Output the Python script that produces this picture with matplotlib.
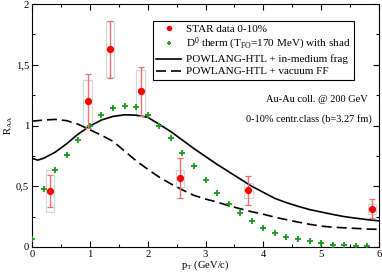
import matplotlib
matplotlib.use("Agg")
import matplotlib.pyplot as plt
from matplotlib.patches import Rectangle
from matplotlib.ticker import MultipleLocator, FixedLocator
import numpy as np

plt.rcParams['font.family'] = ['Liberation Serif', 'DejaVu Serif']
plt.rcParams['mathtext.fontset'] = 'custom'
plt.rcParams['mathtext.rm'] = 'Liberation Serif'
plt.rcParams['mathtext.it'] = 'Liberation Serif'

# STAR data
star_pt = [0.31, 0.96, 1.35, 1.88, 2.56, 3.74, 5.88]
star_raa = [0.46, 1.20, 1.63, 1.285, 0.565, 0.466, 0.314]
star_err_lo = [0.13, 0.22, 0.235, 0.21, 0.165, 0.117, 0.077]
star_err_hi = [0.13, 0.22, 0.23, 0.195, 0.165, 0.117, 0.077]
star_sys_lo = [0.17, 0.20, 0.23, 0.21, 0.07, 0.06, 0.04]
star_sys_hi = [0.17, 0.175, 0.23, 0.175, 0.07, 0.06, 0.04]

# D0 thermal with shadowing
therm_pt = [0.0, 0.2, 0.4, 0.6, 0.8, 1.0, 1.2, 1.4, 1.6, 1.8, 2.0, 2.2, 2.4, 2.6, 2.8,
            3.0, 3.2, 3.4, 3.6, 3.8, 4.0, 4.2, 4.4, 4.6, 4.8, 5.0, 5.2, 5.4, 5.6, 5.8]
therm_raa = [0.063, 0.48, 0.63, 0.755, 0.88, 0.994, 1.084, 1.144, 1.163, 1.15, 1.09, 1.0,
             0.90, 0.776, 0.667, 0.55, 0.447, 0.357, 0.278, 0.212, 0.155, 0.118, 0.085,
             0.063, 0.047, 0.033, 0.02, 0.014, 0.008, 0.006]

# POWLANG-HTL + in-medium frag
med_pt = [0.0, 0.1, 0.2, 0.4, 0.6, 0.8, 1.0, 1.2, 1.4, 1.6, 1.8, 2.0, 2.2, 2.4, 2.6, 2.8,
          3.0, 3.2, 3.4, 3.6, 3.8, 4.0, 4.2, 4.4, 4.6, 4.8, 5.0, 5.2, 5.4, 5.6, 5.8, 6.0]
med_raa = [0.73, 0.715, 0.73, 0.78, 0.85, 0.93, 0.995, 1.045, 1.075, 1.088, 1.085, 1.068,
           1.01, 0.95, 0.88, 0.81, 0.745, 0.68, 0.62, 0.56, 0.50, 0.45, 0.40, 0.365, 0.335,
           0.308, 0.288, 0.268, 0.25, 0.237, 0.225, 0.215]

# POWLANG-HTL + vacuum FF
vac_pt = [0.0, 0.2, 0.4, 0.6, 0.8, 1.0, 1.2, 1.4, 1.6, 1.8, 2.0, 2.2, 2.4, 2.6, 2.8,
          3.0, 3.2, 3.4, 3.6, 3.8, 4.0, 4.2, 4.4, 4.6, 4.8, 5.0, 5.2, 5.4, 5.6, 5.8, 6.0]
vac_raa = [1.035, 1.045, 1.05, 1.04, 1.01, 0.965, 0.92, 0.87, 0.79, 0.71, 0.64, 0.575,
           0.52, 0.47, 0.425, 0.395, 0.37, 0.34, 0.315, 0.29, 0.27, 0.245, 0.225, 0.205,
           0.187, 0.172, 0.163, 0.158, 0.153, 0.148, 0.145]

fig = plt.figure(figsize=(3.82, 2.74), dpi=100)
ax = fig.add_axes([32/382, 27/274, 347/382, 243/274])
ax.set_xlim(0, 6)
ax.set_ylim(0, 2)

# systematic boxes
for x, y, lo, hi in zip(star_pt, star_raa, star_sys_lo, star_sys_hi):
    ax.add_patch(Rectangle((x - 0.075, y - lo), 0.15, lo + hi, facecolor='none',
                           edgecolor='#d8d8d8', lw=0.9, zorder=2))

ax.plot(med_pt, med_raa, color='black', lw=1.2, zorder=3,
        label='POWLANG-HTL + in-medium frag')
ax.plot(vac_pt, vac_raa, color='black', lw=1.2, ls=(0, (6, 3)), zorder=3,
        label='POWLANG-HTL + vacuum FF')
ax.plot(therm_pt, therm_raa, ls='none', marker='+', color='#1a9a1a', ms=4.2, mew=1.3,
        zorder=4, label=r'D$^0$ therm (T$_{\mathrm{FO}}$=170 MeV) with shad')
ax.errorbar(star_pt, star_raa, yerr=[star_err_lo, star_err_hi], fmt='none',
            ecolor='#f07070', elinewidth=1.0, capsize=2.5, capthick=0.9, zorder=5)
ax.plot(star_pt, star_raa, ls='none', marker='o', color='#ff0000', ms=4.2, zorder=6,
        label='STAR data 0-10%')

h, l = ax.get_legend_handles_labels()
order = [3, 2, 0, 1]
leg_handles = [h[i] for i in order]
leg_labels = [l[i] for i in order]
leg = ax.legend(leg_handles, leg_labels, loc='upper left',
                bbox_to_anchor=(121/347, 1 - 17/243), fontsize=8.0, frameon=True,
                fancybox=False, edgecolor='black', framealpha=1, borderpad=0.3,
                handlelength=2.2, handletextpad=0.5, labelspacing=0.2, borderaxespad=0,
                markerscale=0.7)
leg.get_frame().set_linewidth(0.8)

ax.text(0.967, 0.605, 'Au-Au coll. @ 200 GeV', transform=ax.transAxes, ha='right',
        va='center', fontsize=7.5)
ax.text(0.98, 0.525, '0-10% centr.class (b=3.27 fm)', transform=ax.transAxes, ha='right',
        va='center', fontsize=7.5)

ax.xaxis.set_major_locator(FixedLocator([0, 1, 2, 3, 4, 5, 6]))
ax.xaxis.set_minor_locator(MultipleLocator(0.5))
ax.yaxis.set_major_locator(FixedLocator([0, 0.5, 1, 1.5, 2]))
ax.yaxis.set_minor_locator(MultipleLocator(0.25))
ax.set_yticklabels(['0', '0,5', '1', '1,5', '2'])
ax.tick_params(which='both', direction='in', top=True, right=True, labelsize=7.6,
               width=0.8, pad=2)
ax.tick_params(which='major', length=4)
ax.tick_params(which='minor', length=2)
for s in ax.spines.values():
    s.set_linewidth(0.8)

ax.set_xlabel(r'p$_{\mathrm{T}}$ (GeV/c)', fontsize=7.6, labelpad=0)
ax.set_ylabel(r'R$_{\mathrm{AA}}$', fontsize=7.6, labelpad=1)

fig.savefig('out.png', dpi=100)
